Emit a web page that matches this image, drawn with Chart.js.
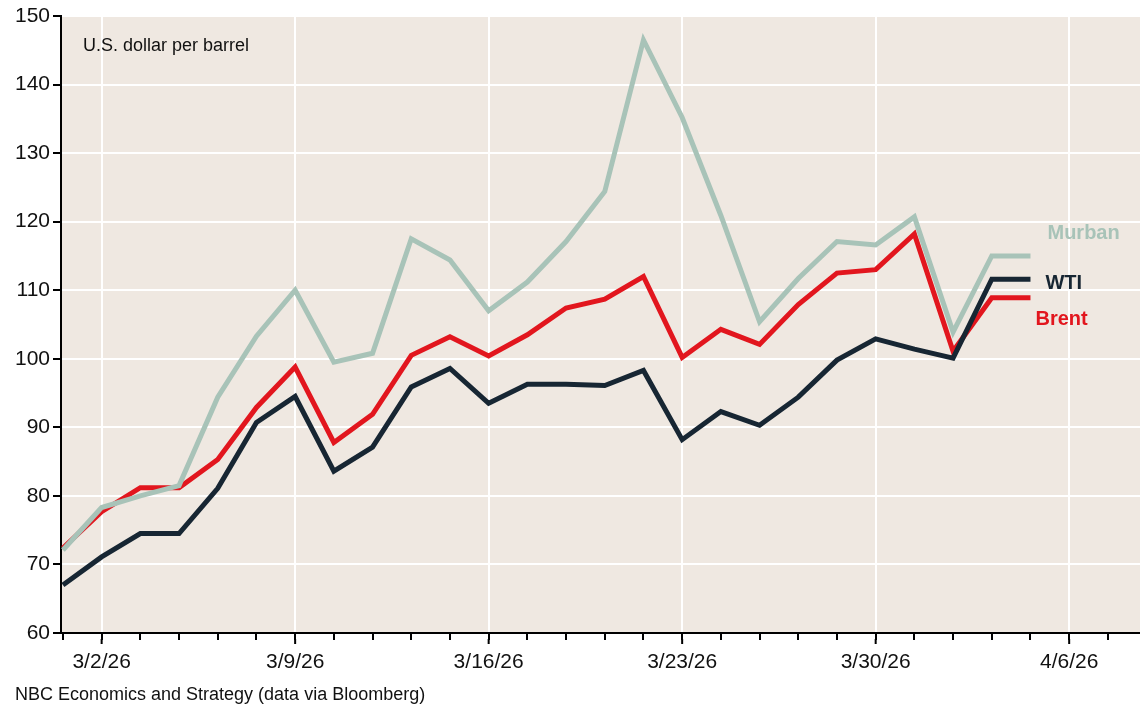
<!DOCTYPE html>
<html>
<head>
<meta charset="utf-8">
<script src="https://cdn.jsdelivr.net/npm/chart.js@4"></script>
<style>
  html, body { margin: 0; padding: 0; background: #fff; }
  #wrap { position: relative; width: 1140px; height: 708px; }
  #source { position: absolute; left: 15px; top: 684px; font: 18px "Liberation Sans", Arial, sans-serif; color: #111; }
</style>
</head>
<body>
<div id="wrap">
  <canvas id="oilChart" width="1140" height="708"></canvas>
  <div id="source">NBC Economics and Strategy (data via Bloomberg)</div>
</div>
<script>
// business days on the x axis, 2/27/26 .. 4/8/26
const days = ["2/27/26", "3/2/26", "3/3/26", "3/4/26", "3/5/26", "3/6/26",
  "3/9/26", "3/10/26", "3/11/26", "3/12/26", "3/13/26",
  "3/16/26", "3/17/26", "3/18/26", "3/19/26", "3/20/26",
  "3/23/26", "3/24/26", "3/25/26", "3/26/26", "3/27/26",
  "3/30/26", "3/31/26", "4/1/26", "4/2/26", "4/3/26",
  "4/6/26", "4/7/26", "4/8/26"];
const weekLabels = ["3/2/26", "3/9/26", "3/16/26", "3/23/26", "3/30/26", "4/6/26"];

const murban = [72.1, 78.3, 80.0, 81.5, 94.4, 103.3, 110.0, 99.5, 100.8, 117.5, 114.4,
  107.0, 111.2, 117.1, 124.4, 146.5, 135.2, 120.9, 105.4, 111.7, 117.1,
  116.6, 120.7, 103.9, 115.0, 115.0];
const wti = [67.0, 71.1, 74.5, 74.5, 81.1, 90.7, 94.5, 83.6, 87.1, 95.9, 98.6,
  93.5, 96.3, 96.3, 96.1, 98.3, 88.2, 92.3, 90.3, 94.4, 99.8,
  102.9, 101.4, 100.1, 111.6, 111.6];
const brent = [72.4, 77.7, 81.2, 81.2, 85.3, 92.9, 98.8, 87.8, 91.9, 100.5, 103.2,
  100.4, 103.5, 107.4, 108.7, 112.0, 100.2, 104.3, 102.1, 107.9, 112.5,
  113.0, 118.2, 101.1, 108.9, 108.9];

const yTicks = [60, 70, 80, 90, 100, 110, 120, 130, 140, 150];

const FONT = "'Liberation Sans', Arial, sans-serif";
const toPts = arr => arr.map((v, i) => ({ x: i, y: v }));
const isMonday = i => weekLabels.includes(days[i]);

const plotBg = {
  id: "plotBg",
  beforeDraw(chart) {
    const { ctx, chartArea: a } = chart;
    ctx.save();
    ctx.fillStyle = "#efe8e1";
    ctx.fillRect(a.left, a.top, a.right - a.left, a.bottom - a.top);
    ctx.restore();
  }
};

// longer tick marks on the Mondays, plus the unit note and end labels
const extras = {
  id: "extras",
  afterDraw(chart) {
    const { ctx, chartArea: a, scales } = chart;
    ctx.save();
    ctx.strokeStyle = "#000";
    ctx.lineWidth = 2;
    days.forEach((d, i) => {
      if (!isMonday(i)) return;
      const x = scales.x.getPixelForValue(i);
      ctx.beginPath();
      ctx.moveTo(x, a.bottom + 6);
      ctx.lineTo(x, a.bottom + 11);
      ctx.stroke();
    });
    ctx.fillStyle = "#111";
    ctx.font = "18px " + FONT;
    ctx.textBaseline = "middle";
    ctx.fillText("U.S. dollar per barrel", a.left + 22, a.top + 30);

    ctx.font = "bold 20px " + FONT;
    const offs = [[17, -22], [15, 4], [5, 22]];
    chart.data.datasets.forEach((ds, k) => {
      const pts = chart.getDatasetMeta(k).data;
      const last = pts[pts.length - 1];
      ctx.fillStyle = ds.borderColor;
      ctx.fillText(ds.label, last.x + offs[k][0], last.y + offs[k][1]);
    });
    ctx.restore();
  }
};

new Chart(document.getElementById("oilChart"), {
  type: "line",
  data: {
    datasets: [
      { label: "Murban", data: toPts(murban), borderColor: "#a8c3b8" },
      { label: "WTI", data: toPts(wti), borderColor: "#172633" },
      { label: "Brent", data: toPts(brent), borderColor: "#e2161e" }
    ]
  },
  options: {
    responsive: false,
    animation: false,
    layout: { padding: { top: 16, right: 0, left: 0, bottom: 0 } },
    elements: {
      line: { borderWidth: 5, tension: 0, borderJoinStyle: "miter", borderCapStyle: "butt" },
      point: { radius: 0 }
    },
    plugins: { legend: { display: false }, tooltip: { enabled: false } },
    scales: {
      x: {
        type: "linear",
        min: -0.05,
        max: 27.83,
        afterFit: s => { s.height = 75; s.paddingLeft = 0; s.paddingRight = 0; },
        afterBuildTicks: s => { s.ticks = days.map((d, i) => ({ value: i })); },
        ticks: {
          autoSkip: false,
          maxRotation: 0,
          padding: 10,
          color: "#111",
          font: { family: FONT, size: 21 },
          callback: v => (isMonday(v) ? days[v] : "")
        },
        grid: {
          color: c => (c.tick && isMonday(c.tick.value) ? "#ffffff" : "rgba(0,0,0,0)"),
          lineWidth: 2,
          tickColor: "#000",
          tickLength: 7,
          tickWidth: 2
        },
        border: { color: "#000", width: 2 }
      },
      y: {
        min: 60,
        max: 150,
        afterFit: s => { s.width = 61; },
        afterBuildTicks: s => { s.ticks = yTicks.map(v => ({ value: v })); },
        ticks: {
          padding: 3,
          color: "#111",
          font: { family: FONT, size: 21 }
        },
        grid: {
          color: "#ffffff",
          lineWidth: 2,
          tickColor: "#000",
          tickLength: 8,
          tickWidth: 2
        },
        border: { color: "#000", width: 2 }
      }
    }
  },
  plugins: [plotBg, extras]
});
</script>
</body>
</html>
